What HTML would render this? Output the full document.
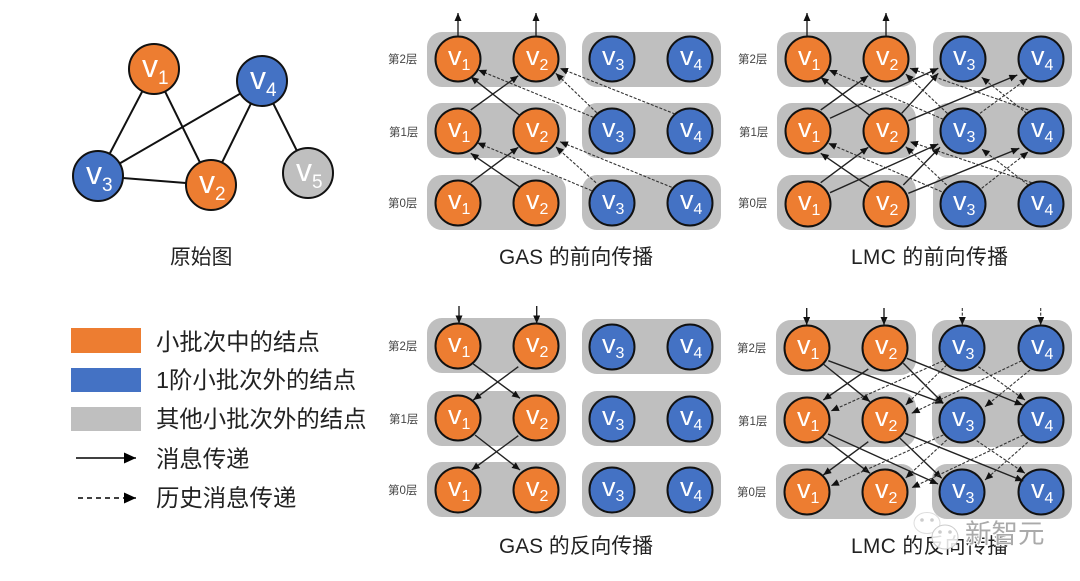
<!DOCTYPE html>
<html lang="zh">
<head>
<meta charset="utf-8">
<title>GAS 与 LMC 传播示意图</title>
<style>
html,body{margin:0;padding:0;background:#fff;width:1080px;height:581px;overflow:hidden}
svg{display:block;filter:blur(.3px)}
text{font-family:"Liberation Sans","Noto Sans CJK SC",sans-serif}
.n text{fill:#fff;font-size:27px}
.n tspan{font-size:16px}
.n circle{stroke:#111;stroke-width:2}
.m text{font-size:32px}
.m tspan{font-size:19px}
.o{fill:#ED7D31}
.b{fill:#4472C4}
.g{fill:#BFBFBF}
.t{font-size:20.8px;fill:#222}
.l{font-size:11.5px;fill:#444}
.k{font-size:23.4px;fill:#222}
.s line{stroke:#222;stroke-width:1.4;marker-end:url(#a)}
.d line{stroke:#333;stroke-width:1.1;stroke-dasharray:3 1.6;marker-end:url(#a)}
</style>
</head>
<body>
<svg width="1080" height="581" viewBox="0 0 1080 581" xmlns="http://www.w3.org/2000/svg">
<defs>
<marker id="a" markerUnits="userSpaceOnUse" markerWidth="9" markerHeight="8" refX="8" refY="3.5" orient="auto"><path d="M0 0L8 3.5L0 7Z" fill="#111"/></marker>
<marker id="big" markerUnits="userSpaceOnUse" markerWidth="13" markerHeight="12" refX="12" refY="5.5" orient="auto"><path d="M0 0L12 5.5L0 11Z" fill="#000"/></marker>
</defs>

<g stroke="#111" stroke-width="2">
<line x1="154" y1="69" x2="98" y2="176"/>
<line x1="154" y1="69" x2="211" y2="185"/>
<line x1="262" y1="81" x2="98" y2="176"/>
<line x1="262" y1="81" x2="211" y2="185"/>
<line x1="98" y1="176" x2="211" y2="185"/>
<line x1="262" y1="81" x2="308" y2="173"/>
</g>
<g class="n m">
<g transform="translate(154,69)"><circle r="25" class="o"/><text x="-12" y="8">v<tspan dy="7">1</tspan></text></g>
<g transform="translate(262,81)"><circle r="25" class="b"/><text x="-12" y="8">v<tspan dy="7">4</tspan></text></g>
<g transform="translate(98,176)"><circle r="25" class="b"/><text x="-12" y="8">v<tspan dy="7">3</tspan></text></g>
<g transform="translate(211,185)"><circle r="25" class="o"/><text x="-12" y="8">v<tspan dy="7">2</tspan></text></g>
<g transform="translate(308,173)"><circle r="25" class="g"/><text x="-12" y="8">v<tspan dy="7">5</tspan></text></g>
</g>
<text class="t" x="170" y="264">原始图</text>

<rect x="71" y="328" width="70" height="25" class="o"/>
<rect x="71" y="368" width="70" height="24" class="b"/>
<rect x="71" y="407" width="70" height="24" class="g"/>
<text class="k" x="156" y="350">小批次中的结点</text>
<text class="k" x="156" y="388">1阶小批次外的结点</text>
<text class="k" x="156" y="427">其他小批次外的结点</text>
<text class="k" x="156" y="467">消息传递</text>
<text class="k" x="156" y="506">历史消息传递</text>
<line x1="76" y1="458" x2="136" y2="458" stroke="#000" stroke-width="1.6" marker-end="url(#big)"/>
<line x1="78" y1="498" x2="136" y2="498" stroke="#000" stroke-width="1.4" stroke-dasharray="5 4" marker-end="url(#big)"/>

<g class="g">
<rect x="427" y="32" width="139" height="55" rx="15"/>
<rect x="582" y="32" width="139" height="55" rx="15"/>
<rect x="427" y="103" width="139" height="55" rx="15"/>
<rect x="582" y="103" width="139" height="55" rx="15"/>
<rect x="427" y="175" width="139" height="55" rx="15"/>
<rect x="582" y="175" width="139" height="55" rx="15"/>
<rect x="777" y="32" width="139" height="55" rx="15"/>
<rect x="933" y="32" width="139" height="55" rx="15"/>
<rect x="777" y="103" width="139" height="55" rx="15"/>
<rect x="933" y="103" width="139" height="55" rx="15"/>
<rect x="777" y="175" width="139" height="55" rx="15"/>
<rect x="933" y="175" width="139" height="55" rx="15"/>
<rect x="427" y="318" width="139" height="55" rx="15"/>
<rect x="582" y="319" width="139" height="55" rx="15"/>
<rect x="427" y="391" width="139" height="55" rx="15"/>
<rect x="582" y="391" width="139" height="55" rx="15"/>
<rect x="427" y="462" width="139" height="55" rx="15"/>
<rect x="582" y="462" width="139" height="55" rx="15"/>
<rect x="776" y="320" width="140" height="55" rx="15"/>
<rect x="932" y="320" width="140" height="55" rx="15"/>
<rect x="776" y="392" width="140" height="55" rx="15"/>
<rect x="932" y="392" width="140" height="55" rx="15"/>
<rect x="776" y="464" width="140" height="55" rx="15"/>
<rect x="932" y="464" width="140" height="55" rx="15"/>
</g>

<g class="n">
<g transform="translate(458,59)"><circle r="22.5" class="o"/><text x="-10" y="6">v<tspan dy="5">1</tspan></text></g>
<g transform="translate(536,59)"><circle r="22.5" class="o"/><text x="-10" y="6">v<tspan dy="5">2</tspan></text></g>
<g transform="translate(612,59)"><circle r="22.5" class="b"/><text x="-10" y="6">v<tspan dy="5">3</tspan></text></g>
<g transform="translate(690,59)"><circle r="22.5" class="b"/><text x="-10" y="6">v<tspan dy="5">4</tspan></text></g>
<g transform="translate(458,131)"><circle r="22.5" class="o"/><text x="-10" y="6">v<tspan dy="5">1</tspan></text></g>
<g transform="translate(536,131)"><circle r="22.5" class="o"/><text x="-10" y="6">v<tspan dy="5">2</tspan></text></g>
<g transform="translate(612,131)"><circle r="22.5" class="b"/><text x="-10" y="6">v<tspan dy="5">3</tspan></text></g>
<g transform="translate(690,131)"><circle r="22.5" class="b"/><text x="-10" y="6">v<tspan dy="5">4</tspan></text></g>
<g transform="translate(458,203)"><circle r="22.5" class="o"/><text x="-10" y="6">v<tspan dy="5">1</tspan></text></g>
<g transform="translate(536,203)"><circle r="22.5" class="o"/><text x="-10" y="6">v<tspan dy="5">2</tspan></text></g>
<g transform="translate(612,203)"><circle r="22.5" class="b"/><text x="-10" y="6">v<tspan dy="5">3</tspan></text></g>
<g transform="translate(690,203)"><circle r="22.5" class="b"/><text x="-10" y="6">v<tspan dy="5">4</tspan></text></g>
<g transform="translate(808,59)"><circle r="22.5" class="o"/><text x="-10" y="6">v<tspan dy="5">1</tspan></text></g>
<g transform="translate(886,59)"><circle r="22.5" class="o"/><text x="-10" y="6">v<tspan dy="5">2</tspan></text></g>
<g transform="translate(963,59)"><circle r="22.5" class="b"/><text x="-10" y="6">v<tspan dy="5">3</tspan></text></g>
<g transform="translate(1041,59)"><circle r="22.5" class="b"/><text x="-10" y="6">v<tspan dy="5">4</tspan></text></g>
<g transform="translate(808,131)"><circle r="22.5" class="o"/><text x="-10" y="6">v<tspan dy="5">1</tspan></text></g>
<g transform="translate(886,131)"><circle r="22.5" class="o"/><text x="-10" y="6">v<tspan dy="5">2</tspan></text></g>
<g transform="translate(963,131)"><circle r="22.5" class="b"/><text x="-10" y="6">v<tspan dy="5">3</tspan></text></g>
<g transform="translate(1041,131)"><circle r="22.5" class="b"/><text x="-10" y="6">v<tspan dy="5">4</tspan></text></g>
<g transform="translate(808,204)"><circle r="22.5" class="o"/><text x="-10" y="6">v<tspan dy="5">1</tspan></text></g>
<g transform="translate(886,204)"><circle r="22.5" class="o"/><text x="-10" y="6">v<tspan dy="5">2</tspan></text></g>
<g transform="translate(963,204)"><circle r="22.5" class="b"/><text x="-10" y="6">v<tspan dy="5">3</tspan></text></g>
<g transform="translate(1041,204)"><circle r="22.5" class="b"/><text x="-10" y="6">v<tspan dy="5">4</tspan></text></g>
<g transform="translate(458,346)"><circle r="22.5" class="o"/><text x="-10" y="6">v<tspan dy="5">1</tspan></text></g>
<g transform="translate(536,346)"><circle r="22.5" class="o"/><text x="-10" y="6">v<tspan dy="5">2</tspan></text></g>
<g transform="translate(612,347)"><circle r="22.5" class="b"/><text x="-10" y="6">v<tspan dy="5">3</tspan></text></g>
<g transform="translate(690,347)"><circle r="22.5" class="b"/><text x="-10" y="6">v<tspan dy="5">4</tspan></text></g>
<g transform="translate(458,418)"><circle r="22.5" class="o"/><text x="-10" y="6">v<tspan dy="5">1</tspan></text></g>
<g transform="translate(536,418)"><circle r="22.5" class="o"/><text x="-10" y="6">v<tspan dy="5">2</tspan></text></g>
<g transform="translate(612,419)"><circle r="22.5" class="b"/><text x="-10" y="6">v<tspan dy="5">3</tspan></text></g>
<g transform="translate(690,419)"><circle r="22.5" class="b"/><text x="-10" y="6">v<tspan dy="5">4</tspan></text></g>
<g transform="translate(458,490)"><circle r="22.5" class="o"/><text x="-10" y="6">v<tspan dy="5">1</tspan></text></g>
<g transform="translate(536,490)"><circle r="22.5" class="o"/><text x="-10" y="6">v<tspan dy="5">2</tspan></text></g>
<g transform="translate(612,490)"><circle r="22.5" class="b"/><text x="-10" y="6">v<tspan dy="5">3</tspan></text></g>
<g transform="translate(690,490)"><circle r="22.5" class="b"/><text x="-10" y="6">v<tspan dy="5">4</tspan></text></g>
<g transform="translate(807,348)"><circle r="22.5" class="o"/><text x="-10" y="6">v<tspan dy="5">1</tspan></text></g>
<g transform="translate(885,348)"><circle r="22.5" class="o"/><text x="-10" y="6">v<tspan dy="5">2</tspan></text></g>
<g transform="translate(962,348)"><circle r="22.5" class="b"/><text x="-10" y="6">v<tspan dy="5">3</tspan></text></g>
<g transform="translate(1041,348)"><circle r="22.5" class="b"/><text x="-10" y="6">v<tspan dy="5">4</tspan></text></g>
<g transform="translate(807,420)"><circle r="22.5" class="o"/><text x="-10" y="6">v<tspan dy="5">1</tspan></text></g>
<g transform="translate(885,420)"><circle r="22.5" class="o"/><text x="-10" y="6">v<tspan dy="5">2</tspan></text></g>
<g transform="translate(962,420)"><circle r="22.5" class="b"/><text x="-10" y="6">v<tspan dy="5">3</tspan></text></g>
<g transform="translate(1041,420)"><circle r="22.5" class="b"/><text x="-10" y="6">v<tspan dy="5">4</tspan></text></g>
<g transform="translate(807,492)"><circle r="22.5" class="o"/><text x="-10" y="6">v<tspan dy="5">1</tspan></text></g>
<g transform="translate(885,492)"><circle r="22.5" class="o"/><text x="-10" y="6">v<tspan dy="5">2</tspan></text></g>
<g transform="translate(962,492)"><circle r="22.5" class="b"/><text x="-10" y="6">v<tspan dy="5">3</tspan></text></g>
<g transform="translate(1041,492)"><circle r="22.5" class="b"/><text x="-10" y="6">v<tspan dy="5">4</tspan></text></g>
</g>

<g class="s">
<line x1="458" y1="36" x2="458" y2="13"/>
<line x1="536" y1="36" x2="536" y2="13"/>
<line x1="470.7" y1="110" x2="518.3" y2="75.7"/>
<line x1="519.3" y1="115" x2="470.7" y2="76.7"/>
<line x1="470.7" y1="182.7" x2="518.3" y2="147.3"/>
<line x1="519.3" y1="186.7" x2="470.7" y2="153.3"/>
<line x1="807" y1="36" x2="807" y2="13"/>
<line x1="886" y1="36" x2="886" y2="13"/>
<line x1="820.7" y1="110" x2="868.3" y2="75.7"/>
<line x1="869.3" y1="115" x2="820.7" y2="77.3"/>
<line x1="830" y1="118.3" x2="938.3" y2="68.3"/>
<line x1="901.7" y1="113.3" x2="938.3" y2="73.3"/>
<line x1="908.3" y1="120.7" x2="1017.3" y2="75"/>
<line x1="820.7" y1="182.7" x2="868.3" y2="147.3"/>
<line x1="869.3" y1="186.7" x2="820.7" y2="153.3"/>
<line x1="830" y1="192.7" x2="938.3" y2="144"/>
<line x1="903.3" y1="185" x2="940" y2="147.3"/>
<line x1="908.3" y1="193.3" x2="1019.3" y2="148.3"/>
<line x1="459" y1="306" x2="459" y2="323.5"/>
<line x1="536.7" y1="306" x2="536.7" y2="323.5"/>
<line x1="473.3" y1="364" x2="520" y2="398.3"/>
<line x1="518.3" y1="366.7" x2="473.3" y2="400"/>
<line x1="475" y1="435" x2="520" y2="470"/>
<line x1="518.3" y1="435.7" x2="471.7" y2="470"/>
<line x1="806.7" y1="308" x2="806.7" y2="325"/>
<line x1="884" y1="308" x2="884" y2="325"/>
<line x1="823.3" y1="364" x2="870" y2="401.7"/>
<line x1="828.3" y1="360.7" x2="943.3" y2="403.3"/>
<line x1="868.3" y1="369" x2="823.3" y2="400"/>
<line x1="903.3" y1="363.3" x2="943.3" y2="403.3"/>
<line x1="906.7" y1="358.3" x2="1022.7" y2="405"/>
<line x1="821.7" y1="436.7" x2="870" y2="473.3"/>
<line x1="828" y1="434" x2="938" y2="484"/>
<line x1="868.3" y1="441.7" x2="823.3" y2="475"/>
<line x1="900" y1="438.3" x2="941.7" y2="478.3"/>
<line x1="905" y1="433.3" x2="1023.3" y2="481"/>
</g>
<g class="d">
<line x1="593.3" y1="117.3" x2="478.3" y2="70"/>
<line x1="596.7" y1="112.7" x2="555.7" y2="73.3"/>
<line x1="675" y1="114" x2="560" y2="68.3"/>
<line x1="591.7" y1="190.7" x2="477.3" y2="142.7"/>
<line x1="596" y1="182.7" x2="555.7" y2="146.7"/>
<line x1="671.7" y1="187.3" x2="560" y2="141.7"/>
<line x1="943.3" y1="119.3" x2="829" y2="70"/>
<line x1="947.3" y1="113.3" x2="905.7" y2="74"/>
<line x1="1028.3" y1="110" x2="910" y2="68.3"/>
<line x1="1026.7" y1="113.3" x2="981.7" y2="77.3"/>
<line x1="980" y1="113.3" x2="1027.7" y2="78.3"/>
<line x1="941.7" y1="191.7" x2="828.3" y2="143.3"/>
<line x1="946.7" y1="185" x2="905.7" y2="146.7"/>
<line x1="1031.7" y1="182.7" x2="910" y2="141.7"/>
<line x1="1028.3" y1="185" x2="981.7" y2="149"/>
<line x1="981.7" y1="188.3" x2="1028.3" y2="151.7"/>
<line x1="962.3" y1="308" x2="962.3" y2="325"/>
<line x1="1040.7" y1="308" x2="1040.7" y2="325"/>
<line x1="943.3" y1="360.7" x2="831" y2="411"/>
<line x1="946.7" y1="365" x2="905.7" y2="405"/>
<line x1="978.3" y1="366.7" x2="1025" y2="400"/>
<line x1="1021.7" y1="360.7" x2="911.7" y2="413.3"/>
<line x1="1030" y1="370" x2="985" y2="406.7"/>
<line x1="943.3" y1="435" x2="831" y2="485.7"/>
<line x1="946.7" y1="440" x2="905.7" y2="478"/>
<line x1="976.7" y1="440.7" x2="1025" y2="473.3"/>
<line x1="1023.3" y1="435" x2="911.7" y2="487.7"/>
<line x1="1027.7" y1="442.3" x2="985" y2="480"/>
</g>

<text class="l" x="388" y="63">第2层</text>
<text class="l" x="389" y="136">第1层</text>
<text class="l" x="388" y="207">第0层</text>
<text class="l" x="738" y="63">第2层</text>
<text class="l" x="739" y="136">第1层</text>
<text class="l" x="738" y="207">第0层</text>
<text class="l" x="388" y="350">第2层</text>
<text class="l" x="389" y="423">第1层</text>
<text class="l" x="388" y="494">第0层</text>
<text class="l" x="737" y="352">第2层</text>
<text class="l" x="738" y="425">第1层</text>
<text class="l" x="737" y="496">第0层</text>

<text class="t" x="499" y="264" textLength="154">GAS 的前向传播</text>
<text class="t" x="851" y="264" textLength="157">LMC 的前向传播</text>
<text class="t" x="499" y="553" textLength="154">GAS 的反向传播</text>
<text class="t" x="851" y="553" textLength="157">LMC 的反向传播</text>

<ellipse cx="927" cy="523" rx="13" ry="10.5" fill="#fff" fill-opacity=".85" stroke="#ddd"/>
<ellipse cx="945" cy="537" rx="13" ry="12" fill="#fff" fill-opacity=".85" stroke="#ccc"/>
<circle cx="922" cy="520" r="1.8" fill="#ccc"/>
<circle cx="932" cy="520" r="1.8" fill="#ccc"/>
<circle cx="940" cy="532" r="1.8" fill="#ccc"/>
<circle cx="950" cy="532" r="1.8" fill="#ccc"/>
<text x="965" y="543" style="font-size:26.5px;fill:#aaa;stroke:#fff;stroke-width:2;paint-order:stroke">新智元</text>
</svg>
</body>
</html>
